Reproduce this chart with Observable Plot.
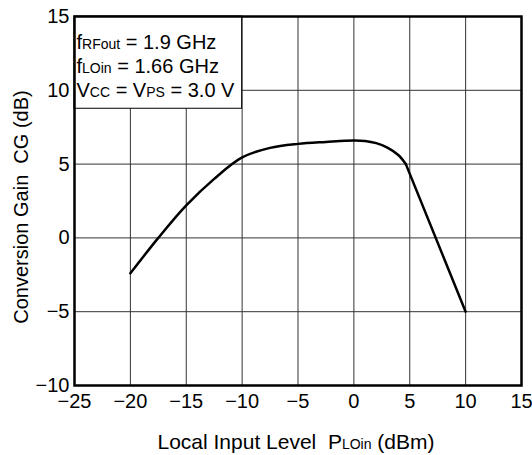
<!DOCTYPE html>
<html><head><meta charset="utf-8">
<script src="https://cdn.jsdelivr.net/npm/d3@7"></script>
<script src="https://cdn.jsdelivr.net/npm/@observablehq/plot@0.6"></script>
<style>
body{margin:0;background:#fff}
svg text{white-space:pre}
</style>
</head><body><div id="chart"></div>
<script>
// Data
const inputLevel     = [-20, -17.5, -15, -12.5, -10, -7.5, -5, -2.5, 0, 1, 2, 3, 4, 4.65, 10];
const conversionGain = [-2.4, 0, 2.2, 4.0, 5.45, 6.1, 6.37, 6.5, 6.6, 6.57, 6.42, 6.12, 5.6, 5.0, -5];
const kneeLevel = 4.65;
const xTicks = [-25, -20, -15, -10, -5, 0, 5, 10, 15];
const yTicks = [-10, -5, 0, 5, 10, 15];
// odd entries are subscripts
const boxLines = [
  ["f", "RFout", " = 1.9 GHz"],
  ["f", "LOin", " = 1.66 GHz"],
  ["V", "CC", " = V", "PS", " = 3.0 V"]
];
const xLabelParts = ["Local Input Level  P", "LOin", " (dBm)"];
const yLabelParts = ["Conversion Gain  CG (dB)"];

const data = inputLevel.map((x, i) => ({x, y: conversionGain[i]}));
const font = "'Liberation Sans', Arial, Helvetica, sans-serif";

const chart = Plot.plot({
  width: 532,
  height: 455,
  marginLeft: 74,
  marginRight: 11,
  marginTop: 16,
  marginBottom: 70,
  style: {fontFamily: font, fontSize: "20px", color: "#000", background: "#fff"},
  x: {domain: [-25, 15]},
  y: {domain: [-10, 15]},
  marks: [
    Plot.gridX(xTicks, {stroke: "#333", strokeOpacity: 1, strokeWidth: 1}),
    Plot.gridY(yTicks, {stroke: "#333", strokeOpacity: 1, strokeWidth: 1}),
    Plot.rect([0], {x1: -25, x2: -10, y1: 8.75, y2: 15, fill: "#fff", stroke: "#000", strokeWidth: 1}),
    ...boxLines.map((parts, i) => Plot.text([parts.join("")], {
      frameAnchor: "top-left", textAnchor: "start", lineAnchor: "bottom",
      dx: 2, dy: 32 + i * 24, fontSize: 20, fill: "#000"
    })),
    Plot.lineY(data.filter(d => d.x <= kneeLevel), {x: "x", y: "y", curve: "catmull-rom", stroke: "#000", strokeWidth: 2.5}),
    Plot.lineY(data.filter(d => d.x >= kneeLevel), {x: "x", y: "y", curve: "linear", stroke: "#000", strokeWidth: 2.5}),
    Plot.frame({stroke: "#000", strokeWidth: 2.5}),
    Plot.axisX(xTicks, {tickSize: 0, tickPadding: 8, label: null, fontSize: 20}),
    Plot.axisY(yTicks, {tickSize: 0, tickPadding: 5, label: null, fontSize: 20}),
    Plot.text([xLabelParts.join("")], {frameAnchor: "bottom", lineAnchor: "bottom", dx: -2, dy: 63, fontSize: 21}),
    Plot.text([yLabelParts.join("")], {frameAnchor: "left", textAnchor: "middle", lineAnchor: "bottom", rotate: -90, dx: -47, dy: 6, fontSize: 20})
  ]
});

const svg = d3.select(chart);
const withSubs = [...boxLines, xLabelParts];
svg.selectAll("text").each(function() {
  const t = d3.select(this);
  const parts = withSubs.find(p => p.join("") === this.textContent);
  if (!parts) return;
  t.text(null);
  parts.forEach((p, j) => {
    const ts = t.append("tspan").text(p);
    if (j % 2 === 1) ts.style("font-size", "14px");
  });
});

document.getElementById("chart").appendChild(chart);
</script>
</body></html>
